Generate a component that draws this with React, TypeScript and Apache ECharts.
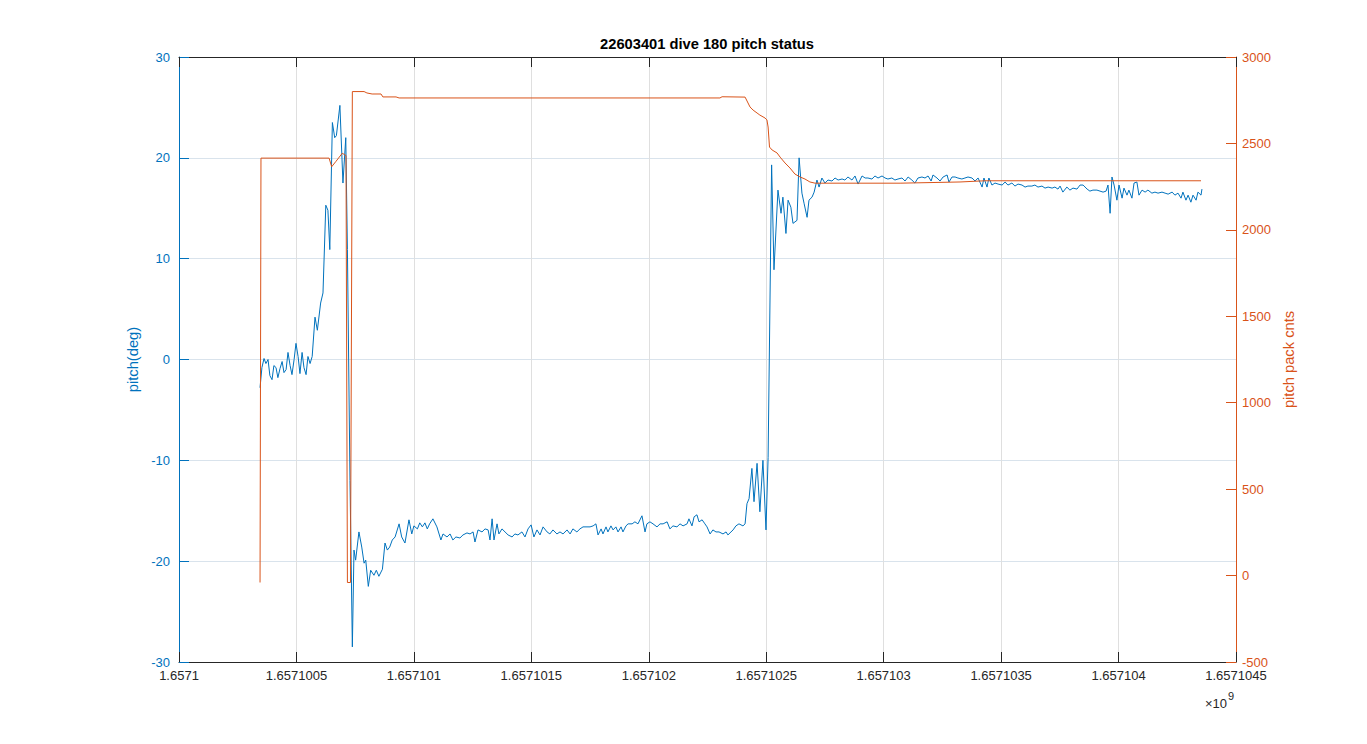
import { useEffect, useRef } from 'react';
import * as echarts from 'echarts';
import type { EChartsOption } from 'echarts';

// time is stored as seconds after 1657100000 (unix seconds)
const timeBase = 1657100000;
const timeRange = [0, 4500];

const titleText = '22603401 dive 180 pitch status';
const leftName = 'pitch(deg)';
const rightName = 'pitch pack cnts';

const pitchRange = [-30, 30];
const packRange = [-500, 3000];

// [t, pitch deg]
const pitchSamples: [number, number][] = [
  [345, -2.8], [353, -0.8], [362, 0.1], [370, -0.4], [379, 0.0], [387, -1.6], [396, -2.0], [404, -0.6],
  [413, -0.8], [421, -1.8], [430, -0.9], [439, -0.2], [447, -1.3], [456, -1.0], [464, 0.7], [473, -0.6],
  [481, -1.5], [490, 0.0], [498, 1.6], [507, 0.3], [515, -1.4], [524, 0.7], [532, -0.8], [541, -1.5],
  [549, 0.3], [558, -0.4], [567, 0.3], [579, 4.2], [589, 2.9], [603, 5.6], [613, 6.6], [625, 15.3],
  [634, 14.8], [642, 10.9], [653, 23.5], [663, 22.0], [670, 22.2], [685, 25.2], [698, 17.5], [710, 22.0],
  [717, 10.9], [728, -12.0], [738, -28.5], [745, -18.9], [752, -19.9], [766, -17.1], [778, -18.6], [788, -20.2],
  [795, -19.9], [806, -22.5], [816, -20.9], [830, -21.4], [840, -20.9], [851, -21.5], [866, -20.8], [877, -18.2],
  [887, -18.9], [897, -18.6], [908, -17.9], [920, -17.6], [937, -16.3], [948, -17.6], [962, -18.2], [979, -15.9],
  [991, -17.3], [1000, -16.5], [1015, -16.8], [1025, -16.2], [1036, -16.6], [1047, -16.2], [1057, -16.8], [1067, -16.3],
  [1081, -15.8], [1098, -16.6], [1115, -17.9], [1124, -17.3], [1141, -17.6], [1154, -17.3], [1166, -17.9], [1179, -17.6],
  [1196, -17.7], [1209, -17.4], [1226, -17.2], [1239, -17.3], [1252, -17.1], [1260, -18.1], [1273, -16.9], [1290, -17.1],
  [1303, -16.8], [1316, -16.9], [1324, -17.9], [1333, -15.8], [1341, -17.9], [1354, -16.3], [1362, -17.3], [1375, -16.8],
  [1388, -17.1], [1401, -17.4], [1418, -17.6], [1430, -17.3], [1443, -17.4], [1460, -17.1], [1473, -17.6], [1486, -16.8],
  [1499, -16.4], [1511, -17.6], [1524, -16.9], [1537, -17.4], [1550, -16.6], [1567, -17.1], [1579, -17.3], [1592, -16.9],
  [1609, -17.3], [1622, -17.1], [1635, -17.3], [1652, -16.9], [1665, -17.3], [1677, -16.8], [1694, -17.1], [1707, -16.8],
  [1720, -16.6], [1737, -16.6], [1750, -16.6], [1763, -16.5], [1775, -16.3], [1784, -17.4], [1797, -16.8], [1805, -17.3],
  [1818, -16.6], [1826, -17.1], [1839, -16.5], [1848, -16.9], [1860, -16.6], [1869, -17.1], [1882, -16.6], [1890, -17.1],
  [1903, -16.5], [1912, -16.3], [1929, -16.3], [1941, -16.1], [1954, -16.3], [1971, -15.5], [1984, -17.1], [1992, -16.3],
  [2005, -16.1], [2018, -16.3], [2035, -16.6], [2048, -16.3], [2061, -16.3], [2078, -16.1], [2090, -16.8], [2103, -16.5],
  [2120, -16.6], [2133, -16.3], [2146, -16.5], [2163, -16.3], [2171, -15.8], [2184, -16.5], [2193, -15.6], [2205, -15.4],
  [2214, -16.1], [2227, -15.9], [2239, -16.3], [2248, -16.6], [2261, -17.3], [2273, -16.9], [2286, -17.1], [2299, -17.1],
  [2316, -17.3], [2329, -17.1], [2337, -17.4], [2350, -17.1], [2359, -16.9], [2371, -16.5], [2384, -16.3], [2401, -16.5],
  [2410, -16.3], [2418, -14.3], [2427, -13.8], [2439, -10.8], [2448, -14.1], [2461, -10.3], [2473, -15.1], [2486, -10.0],
  [2499, -16.9], [2508, -9.7], [2523, 19.3], [2533, 8.9], [2550, 16.8], [2563, 14.5], [2571, 16.1], [2584, 12.5],
  [2593, 15.8], [2605, 15.1], [2614, 13.5], [2631, 13.8], [2640, 20.0], [2652, 16.5], [2661, 15.5], [2674, 14.1],
  [2682, 15.8], [2695, 16.1], [2704, 16.6], [2716, 17.8], [2725, 17.1], [2737, 18.0], [2750, 17.5], [2763, 17.8],
  [2780, 17.7], [2793, 18.0], [2806, 17.8], [2823, 17.9], [2835, 17.8], [2848, 18.1], [2865, 17.8], [2878, 18.2],
  [2891, 17.4], [2908, 18.2], [2921, 18.0], [2933, 18.0], [2950, 17.9], [2963, 18.2], [2976, 18.0], [2993, 18.2],
  [3006, 18.0], [3018, 17.9], [3035, 18.0], [3048, 17.8], [3061, 17.9], [3078, 18.0], [3091, 17.7], [3104, 18.1],
  [3120, 17.8], [3133, 17.5], [3146, 18.0], [3163, 18.1], [3176, 18.0], [3189, 18.2], [3202, 17.7], [3210, 18.3],
  [3227, 18.0], [3240, 17.7], [3253, 18.1], [3270, 18.3], [3278, 17.6], [3291, 18.1], [3304, 18.1], [3316, 18.0],
  [3333, 17.9], [3346, 18.0], [3359, 18.1], [3376, 18.0], [3389, 17.7], [3402, 18.0], [3419, 17.1], [3427, 18.0],
  [3440, 17.1], [3448, 18.0], [3461, 17.3], [3474, 17.5], [3487, 17.4], [3504, 17.3], [3517, 17.6], [3529, 17.3],
  [3546, 17.5], [3559, 17.2], [3572, 17.4], [3589, 17.3], [3602, 17.1], [3614, 17.2], [3631, 17.2], [3644, 17.3],
  [3657, 17.1], [3674, 17.2], [3687, 17.0], [3700, 17.1], [3717, 17.0], [3729, 17.1], [3742, 16.9], [3751, 17.2],
  [3763, 16.6], [3780, 17.1], [3793, 16.8], [3806, 17.0], [3823, 16.9], [3836, 17.3], [3849, 17.3], [3866, 16.9],
  [3878, 16.7], [3891, 16.8], [3908, 16.8], [3921, 16.7], [3934, 16.6], [3947, 16.7], [3955, 17.3], [3964, 14.5],
  [3972, 18.1], [3981, 17.3], [3993, 15.8], [4002, 17.3], [4015, 16.0], [4023, 17.0], [4036, 16.3], [4044, 16.8],
  [4057, 16.0], [4066, 17.5], [4078, 17.6], [4087, 16.3], [4100, 16.8], [4113, 16.6], [4125, 16.8], [4142, 16.5],
  [4155, 16.6], [4168, 16.5], [4185, 16.6], [4198, 16.5], [4211, 16.4], [4228, 16.6], [4240, 16.3], [4253, 16.5],
  [4266, 16.0], [4274, 16.6], [4287, 15.8], [4296, 16.3], [4308, 15.6], [4317, 16.3], [4330, 15.8], [4338, 16.6],
  [4351, 16.3], [4355, 16.9],
];

// [t, pitch pack counts]
const packSamples: [number, number][] = [
  [345, -40], [349, 2415], [639, 2415], [650, 2365], [667, 2394], [695, 2443], [705, 2435], [711, 2430],
  [717, -40], [730, -40], [738, 2800], [788, 2800], [800, 2792], [822, 2786], [860, 2786], [868, 2769],
  [924, 2769], [937, 2763], [2303, 2763], [2312, 2770], [2410, 2768], [2431, 2711], [2444, 2693], [2461, 2676],
  [2473, 2664], [2495, 2647], [2503, 2636], [2508, 2595], [2514, 2479], [2525, 2462], [2546, 2445], [2559, 2421],
  [2580, 2387], [2601, 2358], [2622, 2323], [2644, 2306], [2665, 2294], [2686, 2277], [2708, 2270], [3070, 2270],
  [3325, 2277], [3431, 2284], [4351, 2284],
];

const blue = '#0072BD';
const orange = '#D95319';
const axisGray = '#262626';
const font = 'Liberation Sans, Arial, Helvetica, sans-serif';

function formatTime(v: number) {
  return ((timeBase + v) / 1e9).toFixed(7).replace(/0+$/, '');
}

export default function App() {
  const chartRef = useRef<HTMLDivElement>(null);

  useEffect(() => {
    if (!chartRef.current) return;
    const chart = echarts.init(chartRef.current, undefined, { renderer: 'svg' });

    const xBase = {
      type: 'value' as const,
      min: timeRange[0],
      max: timeRange[1],
      interval: 500,
      axisLine: { show: true, onZero: false, lineStyle: { color: axisGray, width: 1 } },
      axisTick: { show: true, inside: true, length: 10, lineStyle: { color: axisGray } },
    };

    const option: EChartsOption = {
      animation: false,
      backgroundColor: '#fff',
      textStyle: { fontFamily: font },
      grid: { left: 179, right: 131, top: 57, bottom: 82, containLabel: false },
      xAxis: [
        {
          ...xBase,
          position: 'bottom',
          axisLabel: { color: axisGray, fontSize: 13, margin: 7, formatter: formatTime, fontFamily: font },
          splitLine: { show: true, lineStyle: { color: '#dfdfdf', width: 1 } },
        },
        {
          ...xBase,
          position: 'top',
          axisLabel: { show: false },
          splitLine: { show: false },
        },
      ],
      yAxis: [
        {
          type: 'value',
          position: 'left',
          min: pitchRange[0],
          max: pitchRange[1],
          interval: 10,
          name: leftName,
          nameLocation: 'middle',
          nameGap: 25,
          nameTextStyle: { color: blue, fontSize: 14.7, fontFamily: font },
          axisLine: { show: true, onZero: false, lineStyle: { color: blue } },
          axisTick: { show: true, inside: true, length: 10, lineStyle: { color: blue } },
          axisLabel: { color: blue, fontSize: 13, margin: 9, fontFamily: font },
          splitLine: { show: true, lineStyle: { color: '#d9e3ec', width: 1 } },
        },
        {
          type: 'value',
          position: 'right',
          min: packRange[0],
          max: packRange[1],
          interval: 500,
          name: rightName,
          nameLocation: 'middle',
          nameGap: 42,
          nameRotate: 90,
          nameTextStyle: { color: orange, fontSize: 14.7, fontFamily: font },
          axisLine: { show: true, onZero: false, lineStyle: { color: orange } },
          axisTick: { show: true, inside: true, length: 10, lineStyle: { color: orange } },
          axisLabel: { color: orange, fontSize: 13, margin: 6, fontFamily: font, formatter: (v: number) => String(v) },
          splitLine: { show: false },
        },
      ],
      graphic: [
        {
          type: 'text',
          x: 707,
          y: 44,
          style: {
            text: titleText,
            font: `bold 14.7px ${font}`,
            fill: '#000',
            textAlign: 'center',
            textVerticalAlign: 'middle',
          },
        },
        {
          type: 'text',
          x: 1205,
          y: 703,
          style: {
            text: '×10',
            font: `13px ${font}`,
            fill: axisGray,
            textAlign: 'left',
            textVerticalAlign: 'middle',
          },
        },
        {
          type: 'text',
          x: 1228,
          y: 696,
          style: {
            text: '9',
            font: `11px ${font}`,
            fill: axisGray,
            textAlign: 'left',
            textVerticalAlign: 'middle',
          },
        },
      ],
      series: [
        {
          type: 'line',
          name: leftName,
          xAxisIndex: 0,
          yAxisIndex: 0,
          data: pitchSamples,
          showSymbol: false,
          lineStyle: { color: blue, width: 1 },
          itemStyle: { color: blue },
        },
        {
          type: 'line',
          name: rightName,
          xAxisIndex: 0,
          yAxisIndex: 1,
          data: packSamples,
          showSymbol: false,
          lineStyle: { color: orange, width: 1 },
          itemStyle: { color: orange },
        },
      ],
    };

    chart.setOption(option);

    return () => {
      chart.dispose();
    };
  }, []);

  return (
    <div
      ref={chartRef}
      style={{ position: 'fixed', left: 0, top: 0, width: 1367, height: 744, background: '#fff' }}
    />
  );
}
